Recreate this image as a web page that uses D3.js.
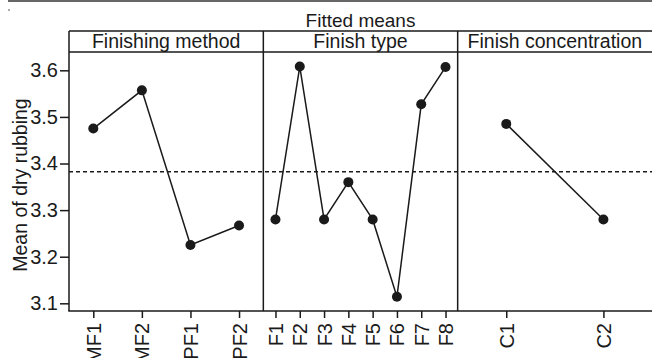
<!DOCTYPE html>
<html>
<head>
<meta charset="utf-8">
<script src="https://cdn.jsdelivr.net/npm/d3@7"></script>
<style>
  body { margin: 0; background: #fff; }
  text { font-family: "Liberation Sans", Arial, sans-serif; fill: #1a1a1a; }
</style>
</head>
<body>
<div id="chart"></div>
<script>
const WIDTH = 652;
const HEIGHT = 358;

// fitted means
const methodLevels = ['MF1', 'MF2', 'PF1', 'PF2'];
const methodMeans = [3.475, 3.557, 3.225, 3.267];
const typeLevels = ['F1', 'F2', 'F3', 'F4', 'F5', 'F6', 'F7', 'F8'];
const typeMeans = [3.28, 3.608, 3.28, 3.36, 3.28, 3.114, 3.527, 3.607];
const concLevels = ['C1', 'C2'];
const concMeans = [3.485, 3.28];
const panelTitles = ['Finishing method', 'Finish type', 'Finish concentration'];
const yTicks = [3.1, 3.2, 3.3, 3.4, 3.5, 3.6];
const grandMean = 3.3825;

const MARGIN = { TOP: 52, BOTTOM: 47, LEFT: 69, RIGHT: 0 };
const HEADER = 21;
const plotW = WIDTH - MARGIN.LEFT - MARGIN.RIGHT;
const plotBottom = HEIGHT - MARGIN.BOTTOM;
const ink = '#1a1a1a';
const FONT = '"Liberation Sans", Arial, sans-serif';

const svg = d3.select('#chart')
    .append('svg')
    .attr('width', WIDTH)
    .attr('height', HEIGHT)

// thin grey rule along the very top of the figure
svg.append('line')
    .attr('x1', 8).attr('x2', WIDTH)
    .attr('y1', 1).attr('y2', 1)
    .attr('stroke', '#666').attr('stroke-width', 2)
svg.append('circle').attr('cx', 9).attr('cy', 10).attr('r', 0.8).attr('fill', '#444')

const y = d3.scaleLinear()
    .domain([3.0835, 3.6393])
    .range([plotBottom, MARGIN.TOP])

const panels = [
    { title: panelTitles[0], levels: methodLevels, means: methodMeans },
    { title: panelTitles[1], levels: typeLevels, means: typeMeans },
    { title: panelTitles[2], levels: concLevels, means: concMeans }
];

const panelX = d3.scaleBand()
    .domain(d3.range(panels.length))
    .range([MARGIN.LEFT, MARGIN.LEFT + plotW])
    .padding(0)

// overall title
svg.append('text')
    .attr('x', MARGIN.LEFT + plotW / 2)
    .attr('y', 27)
    .attr('text-anchor', 'middle')
    .style('font-size', '19px')
    .text('Fitted means')

// dashed grand-mean line across all panels
svg.append('line')
    .attr('x1', MARGIN.LEFT).attr('x2', MARGIN.LEFT + plotW)
    .attr('y1', y(grandMean)).attr('y2', y(grandMean))
    .attr('stroke', ink).attr('stroke-width', 1.5)
    .attr('stroke-dasharray', '4,3')

panels.forEach((p, i) => {
    const x0 = panelX(i);
    const w = panelX.bandwidth();
    const g = svg.append('g');

    // header strip
    g.append('text')
        .attr('x', x0 + w / 2)
        .attr('y', MARGIN.TOP - 4)
        .attr('text-anchor', 'middle')
        .style('font-size', '19.5px')
        .text(p.title)

    const x = d3.scalePoint()
        .domain(p.levels)
        .range([x0, x0 + w])
        .padding(0.5)

    // x axis ticks + rotated labels
    const axis = g.append('g')
        .attr('transform', `translate(0, ${plotBottom})`)
        .call(d3.axisBottom(x).tickSize(7).tickSizeOuter(0))
    axis.select('.domain').remove()
    axis.selectAll('line').attr('stroke', ink).attr('stroke-width', 1.5)
    axis.selectAll('text')
        .attr('transform', 'rotate(-90)')
        .attr('x', -12)
        .attr('y', 0)
        .attr('dy', '0.35em')
        .attr('text-anchor', 'end')
        .style('font-size', '20px')
        .style('font-family', FONT)
        .attr('fill', ink)

    const line = d3.line()
        .x((d, j) => x(p.levels[j]))
        .y(d => y(d))

    g.append('path')
        .datum(p.means)
        .attr('d', line)
        .attr('fill', 'none')
        .attr('stroke', ink)
        .attr('stroke-width', 1.5)

    g.selectAll('circle')
        .data(p.means)
        .enter()
        .append('circle')
        .attr('cx', (d, j) => x(p.levels[j]))
        .attr('cy', d => y(d))
        .attr('r', 5)
        .attr('fill', ink)
})

// frame: header box, panel dividers, left and bottom axis lines
const frame = svg.append('g').attr('stroke', ink).attr('stroke-width', 1.5)
frame.append('line')
    .attr('x1', MARGIN.LEFT).attr('x2', WIDTH)
    .attr('y1', MARGIN.TOP - HEADER).attr('y2', MARGIN.TOP - HEADER)
frame.append('line')
    .attr('x1', MARGIN.LEFT).attr('x2', WIDTH)
    .attr('y1', MARGIN.TOP).attr('y2', MARGIN.TOP)
frame.append('line')
    .attr('x1', MARGIN.LEFT - 0.75).attr('x2', WIDTH)
    .attr('y1', plotBottom).attr('y2', plotBottom)
frame.selectAll('.divider')
    .data(d3.range(panels.length))
    .enter()
    .append('line')
    .attr('x1', i => panelX(i)).attr('x2', i => panelX(i))
    .attr('y1', MARGIN.TOP - HEADER).attr('y2', plotBottom)

// y axis
const yAxis = svg.append('g')
    .attr('transform', `translate(${MARGIN.LEFT}, 0)`)
    .call(d3.axisLeft(y).tickValues(yTicks).tickFormat(d3.format('.1f')).tickSize(9).tickPadding(2))
yAxis.select('.domain').remove()
yAxis.selectAll('line').attr('stroke', ink).attr('stroke-width', 1.5)
yAxis.selectAll('text')
    .style('font-size', '20px')
    .style('font-family', FONT)
    .attr('fill', ink)

svg.append('text')
    .attr('transform', `translate(20, 185) rotate(-90)`)
    .attr('text-anchor', 'middle')
    .attr('dy', '0.35em')
    .style('font-size', '19.5px')
    .text('Mean of dry rubbing')
</script>
</body>
</html>
